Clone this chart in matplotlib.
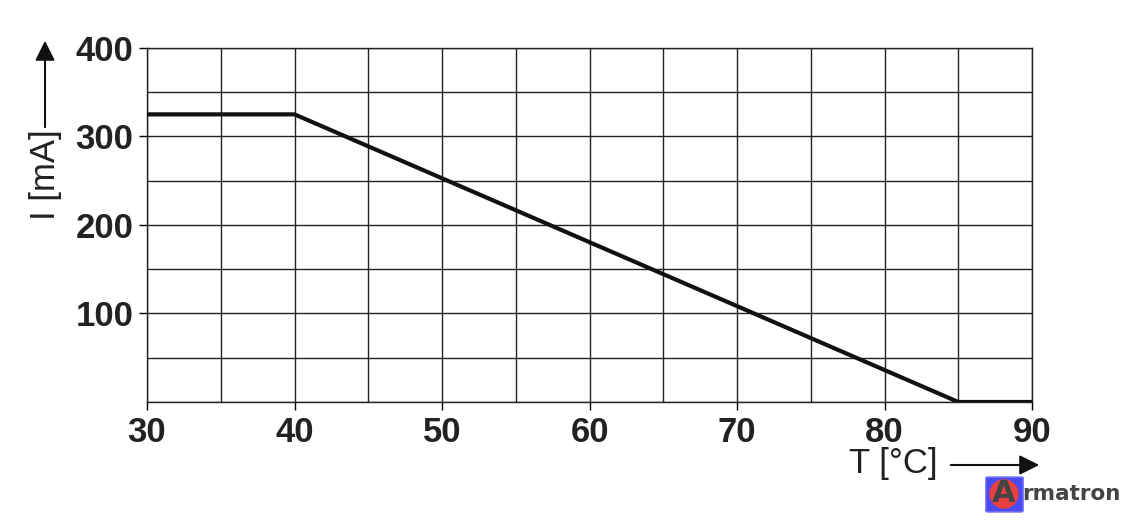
import numpy as np
import matplotlib.pyplot as plt
from matplotlib.patches import FancyBboxPatch, Ellipse

# derating curve
temp = [30, 40, 85, 90]
current = [325, 325, 0, 0]

x_ticks = [30, 40, 50, 60, 70, 80, 90]
y_ticks = [100, 200, 300, 400]

plt.rcParams['font.family'] = ['Liberation Sans', 'DejaVu Sans']

W, H = 1137, 525
fig = plt.figure(figsize=(W / 100, H / 100), dpi=100)
ax = fig.add_axes([0.1293, 0.2343, 0.7784, 0.6743])

ax.plot(temp, current, color='#111111', lw=3, solid_capstyle='butt', zorder=3)

ax.set_xlim(30, 90)
ax.set_ylim(0, 400)
ax.set_xticks(x_ticks)
ax.set_yticks(y_ticks)
ax.set_xticks(np.arange(30, 91, 5), minor=True)
ax.set_yticks(np.arange(0, 401, 50), minor=True)
ax.grid(which='both', color='#222222', lw=1)
ax.tick_params(which='major', length=6, width=1, direction='out', labelsize=25, pad=4)
ax.tick_params(which='minor', length=0)
for lab in ax.get_xticklabels() + ax.get_yticklabels():
    lab.set_fontweight('bold')
    lab.set_color('#222222')
for s in ax.spines.values():
    s.set_linewidth(1)
    s.set_color('#222222')

# axis labels with arrows
fig.text(45 / W, 1 - 175 / H, 'I [mA]', rotation=90, fontsize=25,
         ha='center', va='center', color='#222222')
ax.annotate('', xy=(45 / W, 1 - 38 / H), xytext=(45 / W, 1 - 130 / H),
            xycoords='figure fraction', textcoords='figure fraction',
            arrowprops=dict(arrowstyle='-|>', color='#111111', lw=1.5, mutation_scale=30))
fig.text(893 / W, 1 - 463 / H, 'T [°C]', fontsize=25,
         ha='center', va='center', color='#222222')
ax.annotate('', xy=(1042 / W, 1 - 465 / H), xytext=(948 / W, 1 - 465 / H),
            xycoords='figure fraction', textcoords='figure fraction',
            arrowprops=dict(arrowstyle='-|>', color='#111111', lw=1.5, mutation_scale=30))

# watermark
box = FancyBboxPatch((988 / W, 1 - 511 / H), 33 / W, 33 / H,
                     boxstyle='round,pad=0.002', transform=fig.transFigure,
                     facecolor='#4a4af0', edgecolor='#8080ff', lw=1)
fig.add_artist(box)
circ = Ellipse((1004 / W, 1 - 494 / H), 28 / W, 28 / H, transform=fig.transFigure,
               color='#e84040')
fig.add_artist(circ)
fig.text(1004 / W, 1 - 494 / H, 'A', fontsize=22, fontweight='bold',
         ha='center', va='center', color='#444444', family='DejaVu Sans')
fig.text(1022 / W, 1 - 494 / H, 'rmatron', fontsize=15.5, fontweight='bold',
         ha='left', va='center', color='#444444', family='DejaVu Sans')

fig.savefig('out.png', dpi=100)
